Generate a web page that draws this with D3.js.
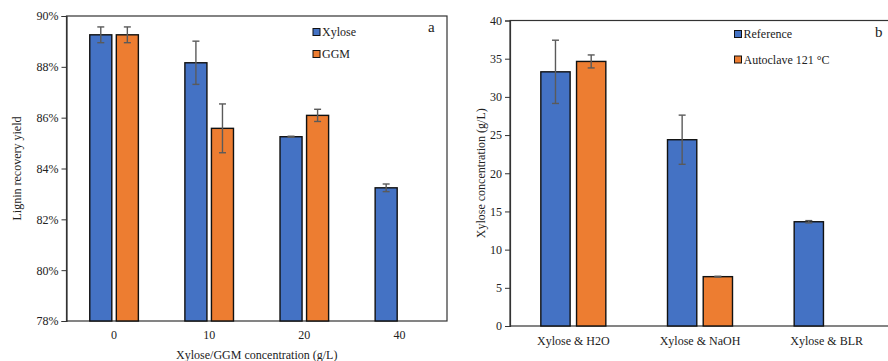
<!DOCTYPE html>
<html>
<head>
<meta charset="utf-8">
<script src="https://cdn.jsdelivr.net/npm/d3@7"></script>
<style>
  body { margin: 0; background: #fff; }
  svg text { font-family: "Liberation Serif", "Times New Roman", serif; fill: #222; }
</style>
</head>
<body>
<svg id="chart" width="888" height="361"></svg>
<script>
// panel a
var concentrations = ["0", "10", "20", "40"];
var seriesA = ["Xylose", "GGM"];
var xyloseYield = [89.26, 88.16, 85.25, 83.24];
var xyloseErr = [0.31, 0.85, 0.02, 0.15];
var ggmYield = [89.26, 85.58, 86.09, null];
var ggmErr = [0.31, 0.96, 0.24, null];
var yTicksA = [78, 80, 82, 84, 86, 88, 90];

// panel b
var treatments = ["Xylose & H2O", "Xylose & NaOH", "Xylose & BLR"];
var seriesB = ["Reference", "Autoclave 121 °C"];
var referenceConc = [33.28, 24.39, 13.65];
var referenceErr = [4.14, 3.22, 0.15];
var autoclaveConc = [34.64, 6.46, null];
var autoclaveErr = [0.85, 0.05, null];
var yTicksB = [0, 5, 10, 15, 20, 25, 30, 35, 40];

var colors = ["#4472C4", "#ED7D31"];
var svg = d3.select("#chart");

function panel(opt) {
  var g = svg.append("g");
  var x0 = d3.scaleBand().domain(opt.cats).range([opt.left, opt.right]);
  var x1 = d3.scaleBand().domain(opt.series).range([0, opt.groupW]).paddingInner(opt.pad);
  var y = d3.scaleLinear().domain(opt.yDomain).range([opt.bottom, opt.top]);

  // frame
  g.append("rect")
    .attr("x", opt.left).attr("y", opt.top)
    .attr("width", opt.right - opt.left).attr("height", opt.bottom - opt.top)
    .attr("fill", "none").attr("stroke", "#333").attr("stroke-width", 1.2);

  var rows = [];
  opt.cats.forEach(function(c, i) {
    opt.values.forEach(function(vals, s) {
      if (vals[i] != null) rows.push({ cat: c, s: s, v: vals[i], e: opt.errors[s][i] });
    });
  });

  var off = x0.bandwidth() / 2 - opt.groupW / 2;
  g.selectAll("rect.bar").data(rows).enter().append("rect")
    .attr("class", "bar")
    .attr("x", function(d) { return x0(d.cat) + off + x1(opt.series[d.s]); })
    .attr("width", x1.bandwidth())
    .attr("y", function(d) { return y(d.v); })
    .attr("height", function(d) { return opt.bottom - y(d.v); })
    .attr("fill", function(d) { return colors[d.s]; })
    .attr("stroke", "#111").attr("stroke-width", 1.4);

  var eg = g.selectAll("g.err").data(rows).enter().append("g")
    .attr("stroke", "#5a5a5a").attr("stroke-width", 1.4);
  eg.each(function(d) {
    var cx = x0(d.cat) + off + x1(opt.series[d.s]) + x1.bandwidth() / 2;
    var sel = d3.select(this);
    sel.append("line").attr("x1", cx).attr("x2", cx).attr("y1", y(d.v + d.e)).attr("y2", y(d.v - d.e));
    sel.append("line").attr("x1", cx - 3.5).attr("x2", cx + 3.5).attr("y1", y(d.v + d.e)).attr("y2", y(d.v + d.e));
    sel.append("line").attr("x1", cx - 3.5).attr("x2", cx + 3.5).attr("y1", y(d.v - d.e)).attr("y2", y(d.v - d.e));
  });

  // y axis
  var ya = g.append("g").attr("transform", "translate(" + opt.left + ",0)")
    .call(d3.axisLeft(y).tickValues(opt.yTicks).tickFormat(opt.fmt).tickSize(5).tickPadding(3));
  ya.select(".domain").attr("stroke", "#333").attr("stroke-width", 1.2);
  ya.selectAll(".tick line").attr("stroke", "#333");
  ya.selectAll(".tick text").attr("font-size", 12).attr("fill", "#222")
    .style("font-family", "Liberation Serif");

  // x axis labels
  g.selectAll("text.xl").data(opt.cats).enter().append("text")
    .attr("x", function(c) { return x0(c) + x0.bandwidth() / 2; })
    .attr("y", opt.xLabelY).attr("text-anchor", "middle").attr("font-size", 12)
    .text(function(c) { return c; });

  if (opt.xTitle) {
    g.append("text").attr("x", (opt.left + opt.right) / 2).attr("y", opt.xTitleY)
      .attr("text-anchor", "middle").attr("font-size", 12).text(opt.xTitle);
  }
  g.append("text")
    .attr("transform", "translate(" + opt.yTitleX + "," + ((opt.top + opt.bottom) / 2) + ") rotate(-90)")
    .attr("text-anchor", "middle").attr("font-size", 12).text(opt.yTitle);

  // legend
  opt.series.forEach(function(s, i) {
    var ly = opt.legY + i * opt.legStep;
    g.append("rect").attr("x", opt.legX).attr("y", ly - 3.5).attr("width", 7).attr("height", 7)
      .attr("fill", colors[i]).attr("stroke", "#111").attr("stroke-width", 1);
    g.append("text").attr("x", opt.legX + 9).attr("y", ly + 4).attr("font-size", 12).text(s);
  });

  g.append("text").attr("x", opt.tagX).attr("y", opt.tagY).attr("font-size", 15).text(opt.tag);
}

panel({
  cats: concentrations, series: seriesA,
  values: [xyloseYield, ggmYield], errors: [xyloseErr, ggmErr],
  left: 66.5, right: 447, top: 16, bottom: 321,
  groupW: 48.6, pad: 0.17,
  yDomain: [78, 90], yTicks: yTicksA, fmt: function(d) { return d + "%"; },
  xLabelY: 339, xTitle: "Xylose/GGM concentration (g/L)", xTitleY: 359,
  yTitle: "Lignin recovery yield", yTitleX: 21,
  legX: 313, legY: 32, legStep: 22,
  tag: "a", tagX: 428, tagY: 32
});

panel({
  cats: treatments, series: seriesB,
  values: [referenceConc, autoclaveConc], errors: [referenceErr, autoclaveErr],
  left: 510, right: 890, top: 20.5, bottom: 326,
  groupW: 65, pad: 0.18,
  yDomain: [0, 40], yTicks: yTicksB, fmt: d3.format("d"),
  xLabelY: 345, xTitle: null,
  yTitle: "Xylose concentration (g/L)", yTitleX: 485,
  legX: 734.5, legY: 34, legStep: 25.5,
  tag: "b", tagX: 875, tagY: 37
});
</script>
</body>
</html>
